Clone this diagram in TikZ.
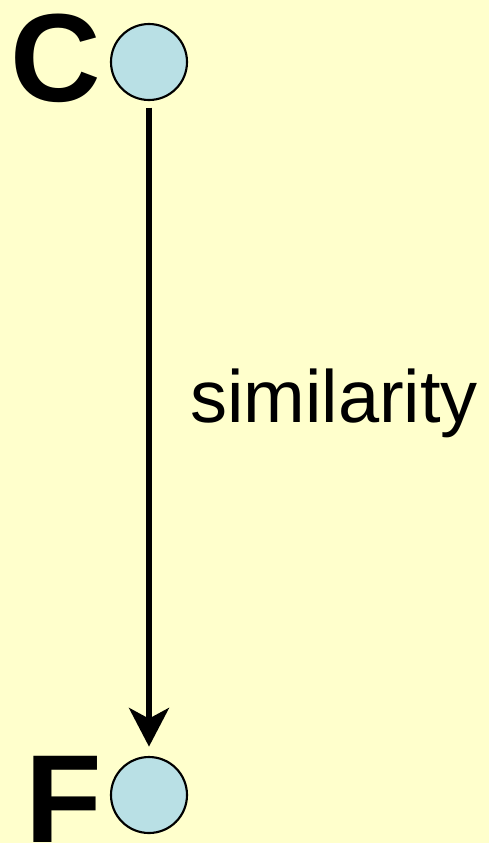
\documentclass[tikz,border=0pt]{standalone}
\usepackage{fontspec}
\setmainfont{Liberation Sans}
\usetikzlibrary{arrows.meta}
\definecolor{bg}{RGB}{255,255,204}
\definecolor{dotfill}{RGB}{185,224,229}
\begin{document}
\begin{tikzpicture}[x=0.75pt,y=-0.75pt,
  dot/.style={circle,draw=black,line width=1.6pt,fill=dotfill,minimum size=57pt,inner sep=0pt},
  biglabel/.style={inner sep=0pt,anchor=base west,font=\fontsize{94}{94}\selectfont\bfseries},
  conn/.style={line width=4pt,-{Stealth[length=29pt,width=30pt,inset=8pt]}}
]
\fill[bg] (0,0) rectangle (489,843);
\useasboundingbox (0,0) rectangle (489,843);
\node[dot] (c) at (149,62) {};
\node[dot] (f) at (149,795) {};
\node[biglabel] (cl) at (10,101) {C};
\node[biglabel] (fl) at (25,842) {F};
\draw[conn,shorten <=5pt,shorten >=7pt] (c.south) -- (f.north);
\node[inner sep=0pt,anchor=base west,font=\fontsize{55.5}{55.5}\selectfont] (lab) at (190,422) {similarity};
\end{tikzpicture}
\end{document}
